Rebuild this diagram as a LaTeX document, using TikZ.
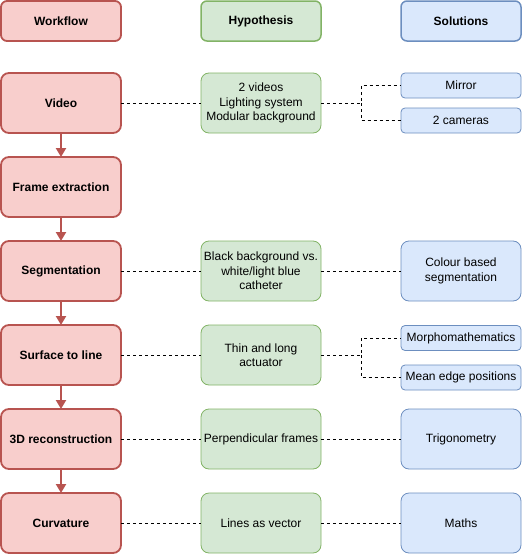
\documentclass[tikz,border=0pt]{standalone}
\usepackage{fontspec}
\setmainfont{Liberation Sans}
\usetikzlibrary{arrows.meta}
\definecolor{rfill}{HTML}{F8CECC}\definecolor{rdraw}{HTML}{B85450}
\definecolor{gfill}{HTML}{D5E8D4}\definecolor{gdraw}{HTML}{82B366}
\definecolor{bfill}{HTML}{DAE8FC}\definecolor{bdraw}{HTML}{6C8EBF}
\begin{document}
\begin{tikzpicture}[x=1pt,y=-1pt,
  base/.style={inner sep=0pt,outer sep=0pt,align=center,minimum width=120pt,font=\fontsize{12}{14.4}\selectfont},
  redbox/.style={base,fill=rfill,draw=rdraw,line width=1.8pt,rounded corners=8pt,minimum height=60pt,font=\fontsize{12}{14.4}\selectfont\bfseries},
  redhead/.style={redbox,minimum height=40pt,rounded corners=6pt},
  greenbox/.style={base,fill=gfill,draw=gdraw,line width=0.8pt,rounded corners=8pt,minimum height=60pt},
  greenhead/.style={greenbox,minimum height=40pt,rounded corners=6pt,line width=1.5pt,font=\fontsize{12}{14.4}\selectfont\bfseries},
  bluebox/.style={base,fill=bfill,draw=bdraw,line width=0.8pt,rounded corners=8pt,minimum height=60pt},
  bluesmall/.style={bluebox,minimum height=25pt,rounded corners=4pt},
  bluehead/.style={bluebox,minimum height=40pt,rounded corners=6pt,line width=1.5pt,font=\fontsize{12}{14.4}\selectfont\bfseries},
  link/.style={draw=black,line width=0.6pt,dash pattern=on 3pt off 3pt},
  flow/.style={draw=rdraw,line width=2.2pt,-{Triangle[length=9pt,width=10pt]}}]
\useasboundingbox (0,0) rectangle (522,554);
% headers
\node[redhead] (hw) at (61,21) {Workflow};
\node[greenhead] (hh) at (261,21) {Hypothesis};
\node[bluehead] (hs) at (461,21) {Solutions};
% workflow
\node[redbox] (w1) at (61,103) {Video};
\node[redbox] (w2) at (61,187) {Frame extraction};
\node[redbox] (w3) at (61,271) {Segmentation};
\node[redbox] (w4) at (61,355) {Surface to line};
\node[redbox] (w5) at (61,439) {3D reconstruction};
\node[redbox] (w6) at (61,523) {Curvature};
% hypotheses
\node[greenbox] (h1) at (261,103) {2 videos\\Lighting system\\Modular background};
\node[greenbox] (h3) at (261,271) {Black background vs.\\white/light blue\\catheter};
\node[greenbox] (h4) at (261,355) {Thin and long\\actuator};
\node[greenbox] (h5) at (261,439) {Perpendicular frames};
\node[greenbox] (h6) at (261,523) {Lines as vector};
% solutions
\node[bluesmall] (s1a) at (461,85.5) {Mirror};
\node[bluesmall] (s1b) at (461,120.5) {2 cameras};
\node[bluebox] (s3) at (461,271) {Colour based\\segmentation};
\node[bluesmall] (s4a) at (461,338) {Morphomathematics};
\node[bluesmall] (s4b) at (461,377.5) {Mean edge positions};
\node[bluebox] (s5) at (461,439) {Trigonometry};
\node[bluebox] (s6) at (461,523) {Maths};
% flow arrows
\draw[flow] (w1) -- (w2);
\draw[flow] (w2) -- (w3);
\draw[flow] (w3) -- (w4);
\draw[flow] (w4) -- (w5);
\draw[flow] (w5) -- (w6);
% dashed links
\coordinate (j1) at (361,103);
\coordinate (j4) at (361,355);
\draw[link] (w1.east) -- (h1.west);
\draw[link] (h1.east) -- (j1) |- (s1a.west);
\draw[link] (j1) |- (s1b.west);
\draw[link] (w3.east) -- (h3.west);
\draw[link] (h3.east) -- (s3.west);
\draw[link] (w4.east) -- (h4.west);
\draw[link] (h4.east) -- (j4) |- (s4a.west);
\draw[link] (j4) |- (s4b.west);
\draw[link] (w5.east) -- (h5.west);
\draw[link] (h5.east) -- (s5.west);
\draw[link] (w6.east) -- (h6.west);
\draw[link] (h6.east) -- (s6.west);
\end{tikzpicture}
\end{document}
